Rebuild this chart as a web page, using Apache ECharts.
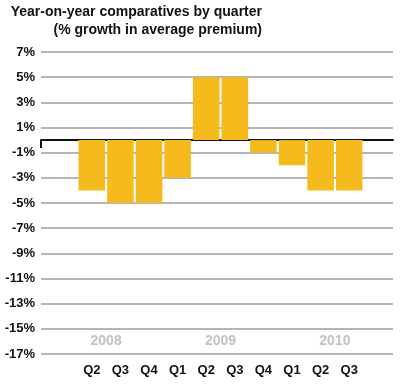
<!DOCTYPE html>
<html>
<head>
<meta charset="utf-8">
<script src="https://cdn.jsdelivr.net/npm/echarts@6/dist/echarts.min.js"></script>
<style>html,body{margin:0;padding:0;background:#fff}#c{width:402px;height:385px}</style>
</head>
<body>
<div id="c"></div>
<script>
var titleLine1 = 'Year-on-year comparatives by quarter';
var titleLine2 = '(% growth in average premium)';
var quarters = ['Q2','Q3','Q4','Q1','Q2','Q3','Q4','Q1','Q2','Q3'];
var growth = [-4, -5, -5, -3, 5, 5, -1, -2, -4, -4];
var years = ['2008','2009','2010'];
var yearPositions = [1, 5, 9];
var yMin = -17, yMax = 7, yStep = 2;

var font = 'Arial, "Liberation Sans", Helvetica, sans-serif';
var chart = echarts.init(document.getElementById('c'));
chart.setOption({
  animation: false,
  title: [
    {text: titleLine1, right: 140, top: 5, padding: 0,
     textStyle: {fontFamily: font, fontSize: 14, fontWeight: 'bold', color: '#111'}},
    {text: titleLine2, right: 140, top: 23, padding: 0,
     textStyle: {fontFamily: font, fontSize: 14, fontWeight: 'bold', color: '#111'}}
  ],
  grid: [
    {left: 41, right: 9, top: 52, bottom: 31},
    {left: 77.5, width: 286, top: 52, bottom: 31}
  ],
  xAxis: [
    {gridIndex: 0, type: 'category', data: ['', ''], boundaryGap: false,
     axisLine: {onZero: true, lineStyle: {color: '#111', width: 2}},
     axisTick: {show: true, length: 8, lineStyle: {color: '#111', width: 2},
                interval: function (i) { return i === 0; }},
     axisLabel: {show: false}, splitLine: {show: false}},
    {gridIndex: 1, type: 'category', data: quarters, position: 'bottom',
     axisLine: {show: false}, axisTick: {show: false},
     axisLabel: {margin: 10, fontFamily: font, fontSize: 13, fontWeight: 'bold', color: '#111'}},
    {gridIndex: 1, type: 'value', min: 0, max: quarters.length, interval: 1, position: 'bottom',
     axisLine: {show: false}, axisTick: {show: false}, splitLine: {show: false},
     axisLabel: {inside: true, margin: 6, fontFamily: font, fontSize: 14, fontWeight: 'bold', color: '#c2c2c2',
       showMinLabel: true, showMaxLabel: true,
       formatter: function (v) { var k = yearPositions.indexOf(Math.round(v)); return k >= 0 ? years[k] : ''; }}}
  ],
  yAxis: [
    {gridIndex: 0, type: 'value', min: yMin, max: yMax, interval: yStep,
     axisLine: {show: false}, axisTick: {show: false},
     axisLabel: {margin: 6, fontFamily: font, fontSize: 13, fontWeight: 'bold', color: '#111',
       formatter: function (v) { return v + '%'; }},
     splitLine: {lineStyle: {color: '#b5b5b5', width: 2}}},
    {gridIndex: 1, type: 'value', min: yMin, max: yMax, interval: yStep, show: false,
     splitLine: {show: false}}
  ],
  series: [
    {type: 'bar', xAxisIndex: 1, yAxisIndex: 1, data: growth, barCategoryGap: '7%',
     itemStyle: {color: '#F5BB1D'}}
  ]
});
</script>
</body>
</html>
